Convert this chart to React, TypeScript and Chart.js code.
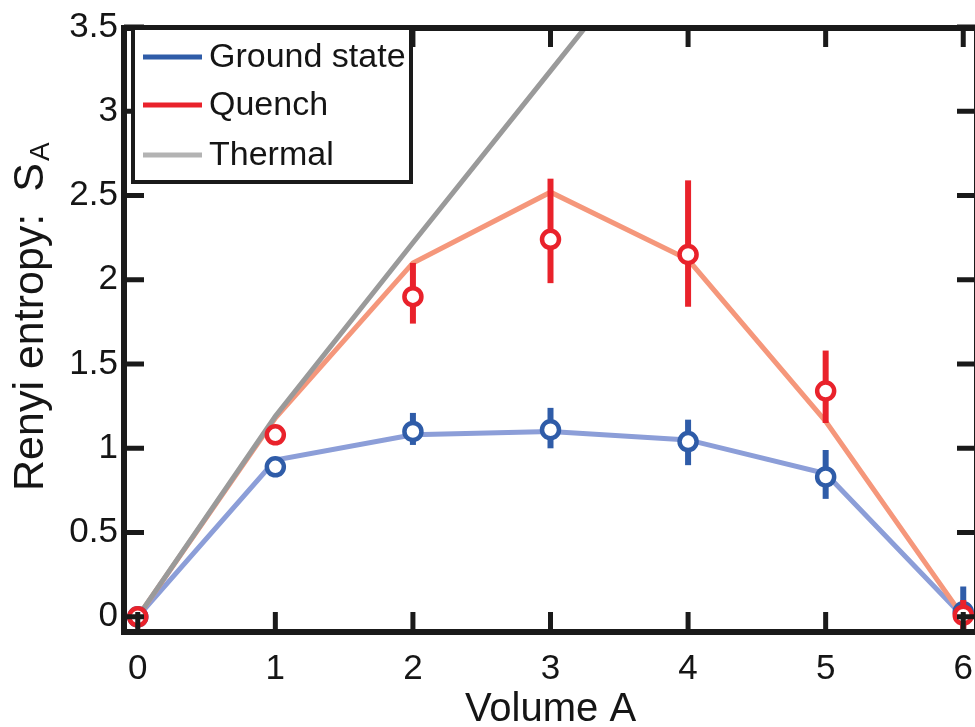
import React, { useEffect, useRef } from "react";
import { Chart, registerables } from "chart.js";
Chart.register(...registerables);

// ---- data ----
const volumes = [0, 1, 2, 3, 4, 5, 6];
const groundTheory = [0, 0.93, 1.08, 1.1, 1.05, 0.85, 0];
const quenchTheory = [0, 1.18, 2.1, 2.52, 2.12, 1.16, 0];
const thermalVolumes = [0, 1, 2, 3, 4];
const thermalTheory = [0, 1.19, 2.22, 3.24, 4.26];
const groundMeasured = [0.0, 0.89, 1.1, 1.11, 1.04, 0.83, 0.03];
const groundErrLow = [-0.02, 0.86, 1.02, 1.0, 0.9, 0.7, -0.08];
const groundErrHigh = [0.02, 0.92, 1.21, 1.24, 1.17, 0.99, 0.18];
const quenchMeasured = [0.0, 1.08, 1.9, 2.24, 2.15, 1.34, 0.01];
const quenchErrLow = [-0.02, 1.04, 1.74, 1.98, 1.84, 1.15, -0.09];
const quenchErrHigh = [0.02, 1.12, 2.1, 2.6, 2.59, 1.58, 0.1];
const xTicks = [0, 1, 2, 3, 4, 5, 6];
const yTicks = [0, 0.5, 1, 1.5, 2, 2.5, 3, 3.5];
const legendLabels = ["Ground state", "Quench", "Thermal"];

const FONT = "'Liberation Sans', Arial, Helvetica, sans-serif";
const TEXT = "#151515";
const BLUE = "#2f5ca8";
const BLUE_LIGHT = "#8c9ed8";
const RED = "#e9222b";
const ORANGE = "#f5977b";
const GRAY = "#9a9a9a";
const GRAY_LEGEND = "#b3b3b3";

const pts = (xs: number[], ys: number[]) => xs.map((x, i) => ({ x, y: ys[i] }));

export default function App() {
  const ref = useRef<HTMLCanvasElement>(null);
  useEffect(() => {
    const canvas = ref.current!;
    const errors: Record<number, { lo: number[]; hi: number[]; color: string }> = {
      3: { lo: groundErrLow, hi: groundErrHigh, color: BLUE },
      4: { lo: quenchErrLow, hi: quenchErrHigh, color: RED },
    };

    const errorBarPlugin = {
      id: "errbars",
      beforeDatasetDraw(chart: any, args: any) {
        const e = errors[args.index];
        if (!e) return;
        const { ctx, scales, chartArea } = chart;
        ctx.save();
        ctx.beginPath();
        ctx.rect(chartArea.left, chartArea.top, chartArea.right - chartArea.left, chartArea.bottom - chartArea.top);
        ctx.clip();
        ctx.strokeStyle = e.color;
        ctx.lineWidth = 6;
        ctx.lineCap = "butt";
        volumes.forEach((v, i) => {
          const px = scales.x.getPixelForValue(v);
          ctx.beginPath();
          ctx.moveTo(px, scales.y.getPixelForValue(e.lo[i]));
          ctx.lineTo(px, scales.y.getPixelForValue(e.hi[i]));
          ctx.stroke();
        });
        ctx.restore();
      },
    };

    const framePlugin = {
      id: "frame",
      afterDraw(chart: any) {
        const { ctx, scales, chartArea } = chart;
        const { left, right, top, bottom } = chartArea;
        ctx.save();
        ctx.strokeStyle = "#1a1a1a";
        ctx.lineCap = "butt";
        // ticks
        ctx.lineWidth = 5;
        const tl = 20;
        xTicks.forEach((v) => {
          const px = scales.x.getPixelForValue(v);
          ctx.beginPath();
          ctx.moveTo(px, bottom);
          ctx.lineTo(px, bottom - tl);
          ctx.moveTo(px, top);
          ctx.lineTo(px, top + tl);
          ctx.stroke();
        });
        yTicks.forEach((v) => {
          const py = scales.y.getPixelForValue(v);
          ctx.beginPath();
          ctx.moveTo(left, py);
          ctx.lineTo(left + tl, py);
          ctx.moveTo(right, py);
          ctx.lineTo(right - tl, py);
          ctx.stroke();
        });
        // frame
        ctx.lineWidth = 6;
        ctx.lineJoin = "miter";
        ctx.strokeRect(left, top + 1, right - left, bottom - top - 1);

        // legend
        const bx = 133, by = 28, bw = 278, bh = 154;
        ctx.fillStyle = "#ffffff";
        ctx.fillRect(bx, by, bw, bh);
        ctx.lineWidth = 4;
        ctx.strokeRect(bx, by, bw, bh);
        const colors = [BLUE, RED, GRAY_LEGEND];
        const ys = [57, 105, 155];
        ctx.font = `34px ${FONT}`;
        ctx.textBaseline = "middle";
        ctx.textAlign = "left";
        legendLabels.forEach((lab, i) => {
          ctx.strokeStyle = colors[i];
          ctx.lineWidth = 5;
          ctx.beginPath();
          ctx.moveTo(143, ys[i]);
          ctx.lineTo(202, ys[i]);
          ctx.stroke();
          ctx.fillStyle = TEXT;
          ctx.fillText(lab, 209, ys[i] + 1);
        });

        // axis titles
        ctx.fillStyle = TEXT;
        ctx.textBaseline = "alphabetic";
        ctx.font = `40px ${FONT}`;
        ctx.textAlign = "center";
        ctx.fillText("Volume A", (left + right) / 2, 721);

        ctx.save();
        ctx.translate(43, 491);
        ctx.rotate(-Math.PI / 2);
        ctx.textAlign = "left";
        ctx.font = `43px ${FONT}`;
        const main = "Renyi entropy:";
        ctx.fillText(main, 0, 0);
        const w = ctx.measureText(main).width + 22;
        ctx.fillText("S", w, 0);
        const ws = w + ctx.measureText("S").width;
        ctx.font = `28px ${FONT}`;
        ctx.fillText("A", ws + 2, 6);
        ctx.restore();

        ctx.restore();
      },
    };

    const tickFont = { family: FONT, size: 35 };
    const chart = new Chart(canvas, {
      type: "line",
      data: {
        datasets: [
          {
            label: "Ground state theory",
            data: pts(volumes, groundTheory),
            borderColor: BLUE_LIGHT,
            borderWidth: 5,
            pointRadius: 0,
            tension: 0,
            order: 5,
          },
          {
            label: "Quench theory",
            data: pts(volumes, quenchTheory),
            borderColor: ORANGE,
            borderWidth: 5,
            pointRadius: 0,
            tension: 0,
            order: 4,
          },
          {
            label: "Thermal",
            data: pts(thermalVolumes, thermalTheory),
            borderColor: GRAY,
            borderWidth: 5,
            pointRadius: 0,
            tension: 0,
            order: 3,
            clip: 0,
          },
          {
            label: "Ground state",
            data: pts(volumes, groundMeasured),
            showLine: false,
            pointStyle: "circle",
            pointRadius: 8.5,
            pointBorderWidth: 4.5,
            pointBackgroundColor: "#ffffff",
            pointBorderColor: BLUE,
            borderColor: BLUE,
            order: 2,
          },
          {
            label: "Quench",
            data: pts(volumes, quenchMeasured),
            showLine: false,
            pointStyle: "circle",
            pointRadius: 8.5,
            pointBorderWidth: 4.5,
            pointBackgroundColor: "#ffffff",
            pointBorderColor: RED,
            borderColor: RED,
            order: 1,
          },
        ],
      },
      options: {
        responsive: false,
        animation: false,
        maintainAspectRatio: false,
        layout: { padding: { top: 20, right: 10, left: 0, bottom: 0 } },
        plugins: { legend: { display: false }, tooltip: { enabled: false } },
        scales: {
          x: {
            type: "linear",
            min: -0.1,
            max: 6.1,
            afterBuildTicks: (s: any) => {
              s.ticks = xTicks.map((v) => ({ value: v }));
            },
            afterFit: (s: any) => {
              s.height = 95;
            },
            grid: { display: false, drawTicks: false },
            border: { display: false },
            ticks: { font: tickFont, color: TEXT, padding: 16, maxRotation: 0, autoSkip: false, callback: (v: any) => String(v) },
          },
          y: {
            type: "linear",
            min: -0.09,
            max: 3.5,
            afterBuildTicks: (s: any) => {
              s.ticks = yTicks.map((v) => ({ value: v }));
            },
            afterFit: (s: any) => {
              s.width = 124;
            },
            grid: { display: false, drawTicks: false },
            border: { display: false },
            ticks: { font: tickFont, color: TEXT, padding: 6, autoSkip: false, callback: (v: any) => String(v) },
          },
        },
      },
      plugins: [errorBarPlugin, framePlugin],
    } as any);
    return () => chart.destroy();
  }, []);
  return (
    <div style={{ position: "fixed", left: 0, top: 0, width: 975, height: 727, overflow: "hidden", background: "#fff" }}>
      <canvas ref={ref} width={990} height={727} style={{ display: "block" }} />
    </div>
  );
}
